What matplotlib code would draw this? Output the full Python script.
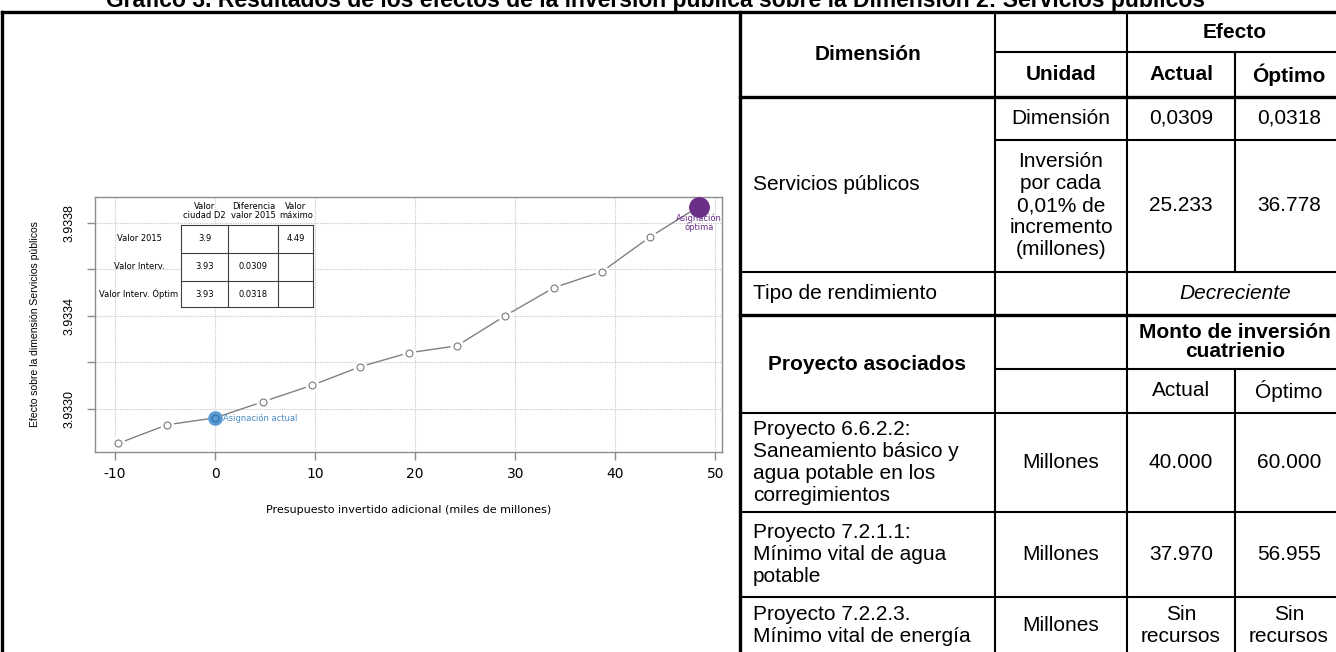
import matplotlib
matplotlib.use("Agg")
import matplotlib.pyplot as plt
from matplotlib.lines import Line2D
from matplotlib.patches import Rectangle

# --- CONFIGURATION ---
W, H = 1336, 652
FONT = "Liberation Sans"
WIDE = "DejaVu Sans"  # the R chart is stretched sideways, a wider face fits better

# --- DATA ---
TITLE = ("Gráfico 3. Resultados de los efectos de la inversión pública "
         "sobre la Dimensión 2: Servicios públicos")

presupuesto = [-9.67, -4.83, 0.0, 4.83, 9.67, 14.50, 19.34, 24.17,
               29.01, 33.84, 38.68, 43.51, 48.35]
efecto = [3.93285, 3.93293, 3.93296, 3.93303, 3.93310, 3.93318, 3.93324,
          3.93327, 3.93340, 3.93352, 3.93359, 3.93374, 3.93387]
IDX_ACTUAL = 2
IDX_OPTIMO = 12

x_ticks = [-10, 0, 10, 20, 30, 40, 50]
y_ticks = [3.9330, 3.9332, 3.9334, 3.9336, 3.9338]
y_ticklabels = ["3.9330", "", "3.9334", "", "3.9338"]

mini_cols = ["Valor\nciudad D2", "Diferencia\nvalor 2015", "Valor\nmáximo"]
mini_rows = ["Valor 2015", "Valor Interv.", "Valor Interv. Óptim"]
mini_vals = [["3.9", "", "4.49"],
             ["3.93", "0.0309", ""],
             ["3.93", "0.0318", ""]]

head_dim = "Dimensión"
head_efecto = "Efecto"
head_cols = ["Unidad", "Actual", "Óptimo"]
servicio = "Servicios públicos"
unidades = ["Dimensión", "Inversión\npor cada\n0,01% de\nincremento\n(millones)"]
efecto_actual = ["0,0309", "25.233"]
efecto_optimo = ["0,0318", "36.778"]
tipo_label = "Tipo de rendimiento"
tipo_valor = "Decreciente"
proy_head = "Proyecto asociados"
monto_head = "Monto de inversión\ncuatrienio"
monto_cols = ["Actual", "Óptimo"]
proyectos = ["Proyecto 6.6.2.2:\nSaneamiento básico y\nagua potable en los\ncorregimientos",
             "Proyecto 7.2.1.1:\nMínimo vital de agua\npotable",
             "Proyecto 7.2.2.3.\nMínimo vital de energía"]
proy_unidad = ["Millones", "Millones", "Millones"]
monto_actual = ["40.000", "37.970", "Sin\nrecursos"]
monto_optimo = ["60.000", "56.955", "Sin\nrecursos"]

# --- LAYOUT (pixels, top-left origin) ---
COL_X = [740, 995, 1127, 1235, 1343]
ROW_Y = [12, 52, 97, 140, 272, 315, 369, 413, 512, 597, 660]
TXT_X = 753
TAB_FS = 15
PLOT_BOX = (95, 722, 197, 452)  # left, right, top, bottom


def fx(x):
    return x / W


def fy(y):
    return 1 - y / H


def hline(fig, y, x0, x1, lw=1.5, color="black"):
    fig.add_artist(Line2D([fx(x0), fx(x1)], [fy(y), fy(y)], color=color,
                          lw=lw, solid_capstyle="projecting"))


def vline(fig, x, y0, y1, lw=1.5, color="black"):
    fig.add_artist(Line2D([fx(x), fx(x)], [fy(y0), fy(y1)], color=color,
                          lw=lw, solid_capstyle="projecting"))


def cell(fig, x, y, s, ha="center", **kw):
    opts = dict(fontsize=TAB_FS, family=FONT, linespacing=1.2)
    opts.update(kw)
    fig.text(fx(x), fy(y), s, ha=ha, va="center", **opts)


def mid(a, b):
    return (a + b) / 2


def draw_chart(fig):
    left, right, top, bottom = PLOT_BOX
    ax = fig.add_axes([fx(left), fy(bottom), fx(right) - fx(left), fy(top) - fy(bottom)])
    ax.set_xlim(-12.0, 50.67)
    ax.set_ylim(3.932813, 3.933911)
    ax.grid(True, color="#c8c8c8", linestyle=(0, (1, 1)), lw=0.8)
    ax.set_axisbelow(True)
    for sp in ax.spines.values():
        sp.set_color("#8c8c8c")
        sp.set_linewidth(1)

    ax.set_xticks(x_ticks)
    ax.set_xticklabels([str(t) for t in x_ticks], family=WIDE, fontsize=10)
    ax.set_yticks(y_ticks)
    ax.set_yticklabels(y_ticklabels, rotation=90, va="center", family=FONT, fontsize=9)
    ax.tick_params(axis="both", length=6, color="#8c8c8c", width=1)
    ax.tick_params(axis="y", pad=8)
    ax.tick_params(axis="x", pad=5)

    # type="b": line with gaps round the points
    ax.plot(presupuesto, efecto, color="#808080", lw=1.0, zorder=2)
    ax.plot(presupuesto, efecto, ls="none", marker="o", ms=9, mfc="white",
            mec="white", zorder=3)
    ax.plot(presupuesto[:-1], efecto[:-1], ls="none", marker="o", ms=5,
            mfc="white", mec="#7a7a7a", mew=0.8, zorder=4)

    xa, ya = presupuesto[IDX_ACTUAL], efecto[IDX_ACTUAL]
    ax.plot(xa, ya, marker="o", ms=9.5, mfc="#5b9bd5", mec="#5b9bd5", zorder=5)
    ax.plot(xa, ya, marker="o", ms=5, mfc="none", mec="#2f6fa8", mew=0.8, zorder=6)
    ax.annotate("Asignación actual", xy=(xa, ya), xytext=(6, 0),
                textcoords="offset points", ha="left", va="center",
                color="#4a8cc4", fontsize=6, family=WIDE)

    xo, yo = presupuesto[IDX_OPTIMO], efecto[IDX_OPTIMO]
    ax.plot(xo, yo, marker="o", ms=14, color="#6b2f8a", zorder=5, clip_on=False)
    ax.annotate("Asignación\nóptima", xy=(xo, yo), xytext=(0, -5),
                textcoords="offset points", ha="center", va="top",
                color="#6b2f8a", fontsize=6, family=WIDE, linespacing=1.0,
                zorder=7)

    fig.text(fx(35), fy(mid(top, bottom)), "Efecto sobre la dimensión Servicios públicos",
             rotation=90, ha="center", va="center", fontsize=7.5, family=FONT)
    fig.text(fx(mid(left, right)), fy(510),
             "Presupuesto invertido adicional (miles de millones)",
             ha="center", va="center", fontsize=8, family=WIDE)


def draw_mini_table(fig):
    xs = [180.7, 228.3, 278.3, 313.3]
    ys = [225, 252.7, 280.7, 307.3]
    fig.add_artist(Rectangle((fx(xs[0]), fy(ys[-1])), fx(xs[-1]) - fx(xs[0]),
                             fy(ys[0]) - fy(ys[-1]), facecolor="white",
                             edgecolor="none"))
    for y in ys:
        hline(fig, y, xs[0], xs[-1], lw=0.8, color="#404040")
    for x in xs:
        vline(fig, x, ys[0], ys[-1], lw=0.8, color="#404040")
    for j, s in enumerate(mini_cols):
        fig.text(fx(mid(xs[j], xs[j + 1])), fy(211), s, ha="center", va="center",
                 fontsize=6, family=WIDE, linespacing=1.0)
    for i, s in enumerate(mini_rows):
        yc = mid(ys[i], ys[i + 1])
        fig.text(fx(139), fy(yc), s, ha="center", va="center", fontsize=6, family=WIDE)
        for j, v in enumerate(mini_vals[i]):
            fig.text(fx(mid(xs[j], xs[j + 1])), fy(yc), v, ha="center",
                     va="center", fontsize=6, family=WIDE)


def draw_table(fig):
    c = COL_X
    r = ROW_Y
    thick = 2.4
    # frame
    hline(fig, r[0], 2, c[4], lw=thick)
    vline(fig, 2, r[0], H + 5, lw=thick)
    vline(fig, c[0], r[0], H + 5, lw=thick)
    vline(fig, c[1], r[0], H + 5)
    vline(fig, c[2], r[0], H + 5)
    vline(fig, c[3], r[1], r[4])
    vline(fig, c[3], r[6], H + 5)
    vline(fig, c[4], r[0], H + 5)
    hline(fig, r[1], c[1], c[4])
    hline(fig, r[2], c[0], c[4], lw=thick)
    hline(fig, r[3], c[1], c[4])
    hline(fig, r[4], c[0], c[4])
    hline(fig, r[5], c[0], c[4], lw=thick)
    hline(fig, r[6], c[1], c[4])
    for y in r[7:10]:
        hline(fig, y, c[0], c[4])

    # header
    cell(fig, mid(c[0], c[1]), mid(r[0], r[2]), head_dim, fontweight="bold")
    cell(fig, mid(c[2], c[4]), mid(r[0], r[1]), head_efecto, fontweight="bold")
    for j, s in enumerate(head_cols):
        cell(fig, mid(c[j + 1], c[j + 2]), mid(r[1], r[2]), s, fontweight="bold")

    # effect rows
    cell(fig, TXT_X, mid(r[2], r[4]), servicio, ha="left")
    for i in range(2):
        yc = mid(r[2 + i], r[3 + i])
        cell(fig, mid(c[1], c[2]), yc, unidades[i])
        cell(fig, mid(c[2], c[3]), yc, efecto_actual[i])
        cell(fig, mid(c[3], c[4]), yc, efecto_optimo[i])

    cell(fig, TXT_X, mid(r[4], r[5]), tipo_label, ha="left")
    cell(fig, mid(c[2], c[4]), mid(r[4], r[5]), tipo_valor, style="italic")

    # projects
    cell(fig, mid(c[0], c[1]), mid(r[5], r[7]), proy_head, fontweight="bold")
    cell(fig, mid(c[2], c[4]), mid(r[5], r[6]), monto_head, fontweight="bold",
         linespacing=1.05)
    for j, s in enumerate(monto_cols):
        cell(fig, mid(c[j + 2], c[j + 3]), mid(r[6], r[7]), s)

    proj_rows = [(r[7], r[8]), (r[8], r[9]), (r[9], r[9] + 57)]
    for i, (y0, y1) in enumerate(proj_rows):
        yc = mid(y0, y1)
        cell(fig, TXT_X, yc, proyectos[i], ha="left")
        cell(fig, mid(c[1], c[2]), yc, proy_unidad[i])
        cell(fig, mid(c[2], c[3]), yc, monto_actual[i])
        cell(fig, mid(c[3], c[4]), yc, monto_optimo[i])


def main():
    fig = plt.figure(figsize=(W / 100, H / 100), dpi=100)
    fig.patch.set_facecolor("white")

    # the title is cut by the top edge in the source page
    fig.text(fx(656), fy(7), TITLE, ha="center", va="baseline", fontsize=16.5,
             fontweight="bold", family=FONT)

    draw_chart(fig)
    draw_mini_table(fig)
    draw_table(fig)

    fig.savefig("out.png", dpi=100, facecolor="white")


if __name__ == "__main__":
    main()
